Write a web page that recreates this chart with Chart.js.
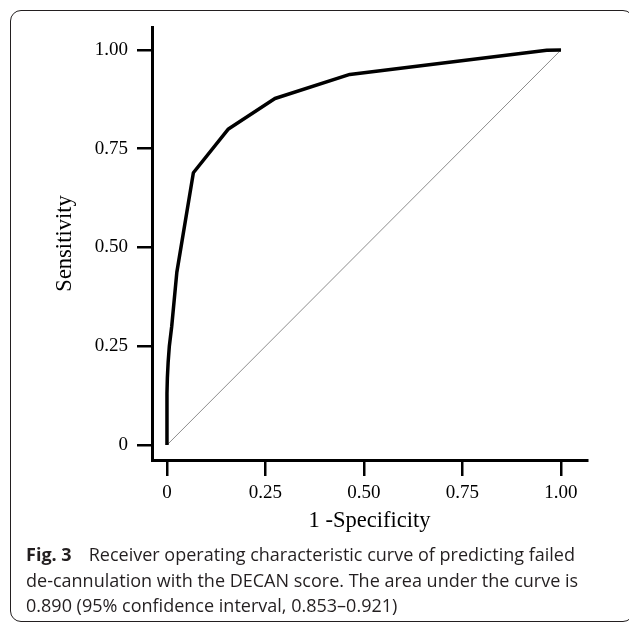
<!DOCTYPE html>
<html>
<head>
<meta charset="utf-8">
<script src="https://cdn.jsdelivr.net/npm/chart.js@4.4.1/dist/chart.umd.min.js"></script>
<style>
  html, body { margin: 0; padding: 0; background: #fff; }
  body { width: 629px; height: 626px; position: relative; overflow: hidden; }
  #frame { position: absolute; left: 10px; top: 10px; width: 624px; height: 612px;
           border: 1.3px solid #231f20; border-radius: 11px; box-sizing: border-box; }
  #wrap { position: absolute; left: 0; top: 0; width: 629px; height: 626px; }
  #caption { position: absolute; left: 26px; top: 542px; font-family: "Open Sans", sans-serif;
             font-size: 18px; color: #231f20; line-height: 25.7px; white-space: nowrap;
             transform-origin: 0 0; }
  #caption b { font-weight: 700; }
  .gap { display: inline-block; width: 17px; }
</style>
</head>
<body>
<div id="frame"></div>
<div id="wrap"><canvas id="c" width="629" height="626"></canvas></div>
<div id="caption">
  <div><span id="l1"><b>Fig. 3</b><span class="gap"></span>Receiver operating characteristic curve of predicting failed</span></div>
  <div>de-cannulation with the DECAN score. The area under the curve is</div>
  <div>0.890 (95% confidence interval, 0.853–0.921)</div>
</div>
<script>
// ---- data ----
const rocFpr = [0, 0, 0.001, 0.003, 0.006, 0.012, 0.025, 0.067, 0.156, 0.274, 0.464, 0.964, 1.0];
const rocTpr = [0, 0.13, 0.17, 0.21, 0.25, 0.30, 0.437, 0.689, 0.80, 0.877, 0.938, 0.999, 1.0];
const refFpr = [0, 1];
const refTpr = [0, 1];
const tickValues = [0, 0.25, 0.5, 0.75, 1.0];
const tickLabels = ["0", "0.25", "0.50", "0.75", "1.00"];
const xTitle = "1 -Specificity";
const yTitle = "Sensitivity";

const toPts = (xs, ys) => xs.map((x, i) => ({x: x, y: ys[i]}));
const serif = "'Liberation Serif', 'Times New Roman', serif";

function setTicks(scale) {
  scale.ticks = tickValues.map(v => ({value: v}));
}
function fmt(v) {
  const i = tickValues.findIndex(t => Math.abs(t - v) < 1e-9);
  return i >= 0 ? tickLabels[i] : "";
}

new Chart(document.getElementById('c'), {
  type: 'scatter',
  data: {
    datasets: [
      { data: toPts(refFpr, refTpr), showLine: true, borderColor: '#8c8c8c', borderWidth: 1,
        pointRadius: 0, fill: false, order: 2 },
      { data: toPts(rocFpr, rocTpr), showLine: true, borderColor: '#000', borderWidth: 3.5,
        pointRadius: 0, fill: false, tension: 0, borderJoinStyle: 'round', borderCapStyle: 'butt', order: 1 }
    ]
  },
  options: {
    responsive: false,
    animation: false,
    events: [],
    layout: { padding: { left: 40, top: 27, right: 42, bottom: 91 } },
    plugins: { legend: { display: false }, tooltip: { enabled: false } },
    scales: {
      x: {
        type: 'linear', min: -0.038, max: 1.066,
        afterBuildTicks: setTicks,
        afterFit: s => { s.height = 75; },
        grid: { drawOnChartArea: false, drawTicks: true, tickLength: 16, color: '#000', lineWidth: 2.5 },
        border: { display: true, color: '#000', width: 3 },
        ticks: { callback: fmt, color: '#000', padding: 6, maxRotation: 0, autoSkip: false,
                 font: { family: serif, size: 19 } },
        title: { display: true, text: xTitle, color: '#000', padding: 0,
                 font: { family: serif, size: 22.5 } }
      },
      y: {
        type: 'linear', min: -0.038, max: 1.058,
        afterBuildTicks: setTicks,
        afterFit: s => { s.width = 112; },
        grid: { drawOnChartArea: false, drawTicks: true, tickLength: 15, color: '#000', lineWidth: 2.5 },
        border: { display: true, color: '#000', width: 3 },
        ticks: { callback: fmt, color: '#000', padding: 9, autoSkip: false,
                 font: { family: serif, size: 19 } },
        title: { display: true, text: yTitle, color: '#000', padding: { top: 12, bottom: 0 },
                 font: { family: serif, size: 22.5 } }
      }
    }
  }
});

// fit caption width to the reference line length
const l1 = document.getElementById('l1');
const w = l1.getBoundingClientRect().width;
const target = 549;
document.getElementById('caption').style.transform = 'scaleX(' + (target / w) + ')';
</script>
</body>
</html>
